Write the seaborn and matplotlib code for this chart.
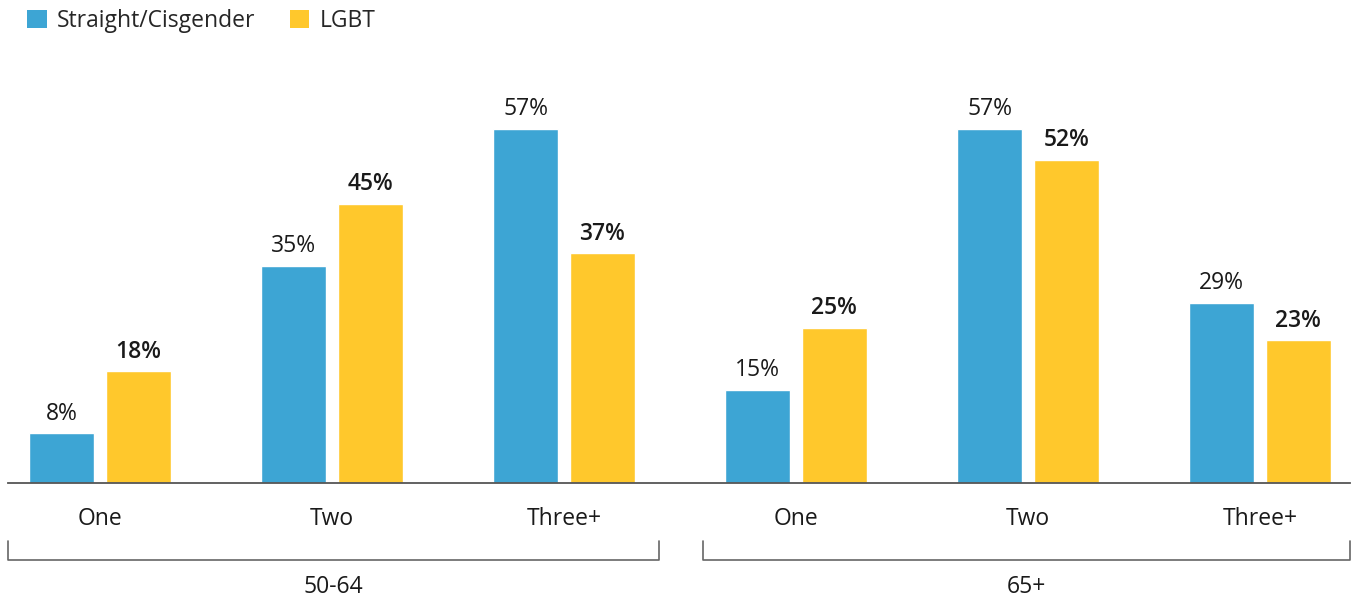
import matplotlib
matplotlib.use("Agg")
import matplotlib.pyplot as plt
from matplotlib.transforms import blended_transform_factory
from matplotlib.lines import Line2D
from matplotlib.patches import Patch
import seaborn as sns
import pandas as pd

# Data
age_groups = ["50-64", "50-64", "50-64", "65+", "65+", "65+"]
children = ["One", "Two", "Three+", "One", "Two", "Three+"]
straight = [8, 35, 57, 15, 57, 29]
lgbt = [18, 45, 37, 25, 52, 23]
series = ["Straight/Cisgender", "LGBT"]
colors = ["#3DA5D4", "#FFC82C"]

keys = [f"{a} {c}" for a, c in zip(age_groups, children)]
df = pd.DataFrame({
    "key": keys * 2,
    "value": straight + lgbt,
    "series": [series[0]] * len(keys) + [series[1]] * len(keys),
})

sns.set_style("white")
plt.rcParams["font.family"] = ["Open Sans", "DejaVu Sans"]
FS = 16.5
TXT = "#1a1a1a"

fig = plt.figure(figsize=(13.55, 6.0), dpi=100)
left_px, right_px = 8, 1350
base_px = 483
ymax = 68
px_per_unit = 354 / 57
ax_h_px = ymax * px_per_unit
ax = fig.add_axes([left_px / 1355, (600 - base_px) / 600,
                   (right_px - left_px) / 1355, ax_h_px / 600])

sns.barplot(data=df, x="key", y="value", hue="series", order=keys,
            hue_order=series, palette=colors, width=0.66, gap=0.15,
            saturation=1, legend=False, ax=ax)

ax.set_xlim(-0.397, len(keys) - 1 + 0.388)
ax.set_ylim(0, ymax)
ax.set_xlabel("")
ax.set_ylabel("")
ax.set_yticks([])
ax.set_xticks(range(len(keys)))
ax.set_xticklabels(children, fontsize=FS, color=TXT)
ax.tick_params(axis="x", length=0, pad=17.5)
for s in ["top", "right", "left"]:
    ax.spines[s].set_visible(False)
ax.spines["bottom"].set_color("#555555")
ax.spines["bottom"].set_linewidth(1.3)

# Value labels
ax.bar_label(ax.containers[0], fmt="%d%%", padding=5.5, fontsize=FS, color=TXT)
ax.bar_label(ax.containers[1], fmt="%d%%", padding=5.5, fontsize=FS,
             color=TXT, fontweight="semibold")

# Age-group brackets below the category labels
trans = blended_transform_factory(ax.transData, fig.transFigure)
y_line, y_top, y_text = 40 / 600, 59 / 600, 13 / 600
lo, hi = ax.get_xlim()
spans = [("50-64", lo, 2.41), ("65+", 2.60, hi)]
for label, x0, x1 in spans:
    fig.add_artist(Line2D([x0, x0, x1, x1], [y_top, y_line, y_line, y_top],
                          transform=trans, color="#666666", lw=1.2))
    ax.text((x0 + x1) / 2, y_text, label, transform=trans, ha="center",
            va="center", fontsize=FS, color=TXT)

# Legend
handles = [Patch(facecolor=c, edgecolor="none", label=s)
           for c, s in zip(colors, series)]
fig.legend(handles=handles, loc="upper left", bbox_to_anchor=(0.0158, 0.995),
           ncol=2, frameon=False, fontsize=FS, handlelength=0.85,
           handleheight=0.85, handletextpad=0.45, columnspacing=1.5,
           borderpad=0.25, borderaxespad=0)

fig.savefig("out.png", dpi=100)
